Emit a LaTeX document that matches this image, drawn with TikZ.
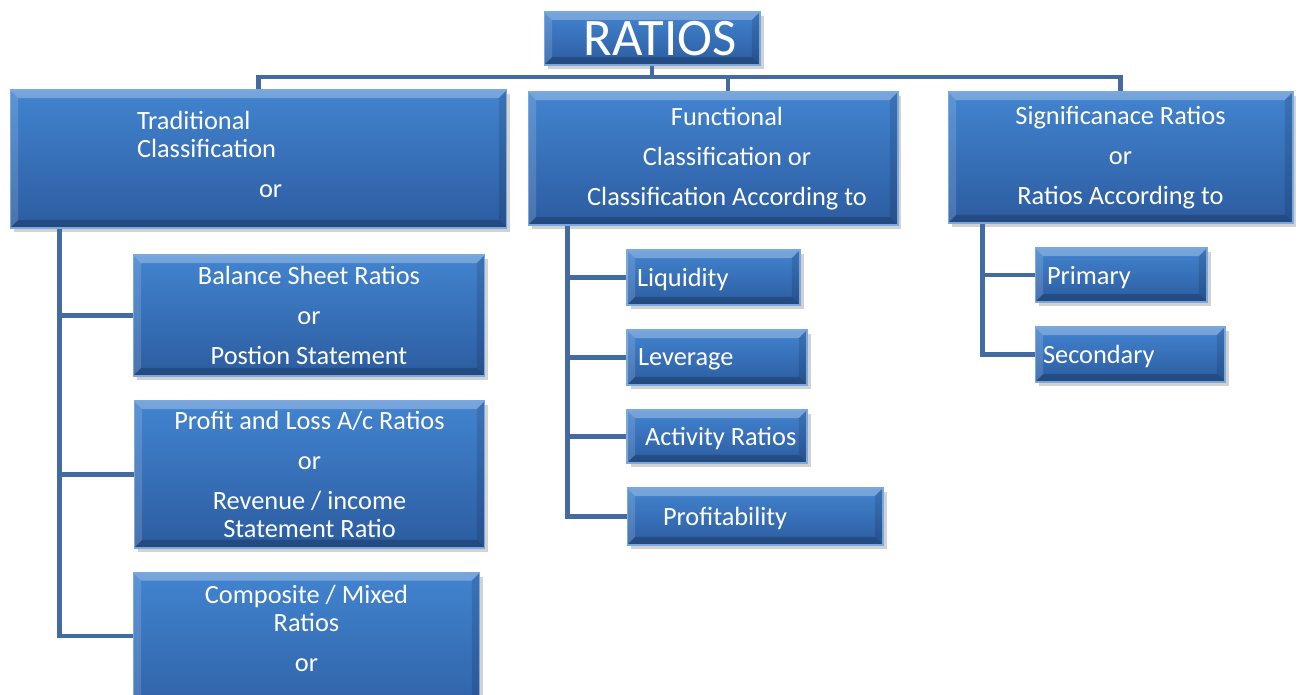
\documentclass[tikz,border=0pt]{standalone}
\usepackage{fontspec}
\setmainfont{Carlito}
\usetikzlibrary{shadows}
\definecolor{boxtop}{RGB}{66,132,208}
\definecolor{boxbot}{RGB}{44,92,160}
\definecolor{lineblue}{RGB}{68,106,162}
\tikzset{
  box/.style={shape=rectangle,top color=boxtop,bottom color=boxbot,draw=boxtop!70!white,line width=0.6pt,
    text=white,inner sep=0pt,font=\fontsize{15}{16}\selectfont,
    drop shadow={shadow xshift=2pt,shadow yshift=-2.5pt,opacity=0.35},
    path picture={
      \fill[white,opacity=.28] (path picture bounding box.north west) -- (path picture bounding box.north east)
        -- ([shift={(-0.16cm,-0.16cm)}]path picture bounding box.north east) -- ([shift={(0.16cm,-0.16cm)}]path picture bounding box.north west) -- cycle;
      \fill[white,opacity=.14] (path picture bounding box.north west) -- ([shift={(0.16cm,-0.16cm)}]path picture bounding box.north west)
        -- ([shift={(0.16cm,0.16cm)}]path picture bounding box.south west) -- (path picture bounding box.south west) -- cycle;
      \fill[black,opacity=.2] (path picture bounding box.south west) -- (path picture bounding box.south east)
        -- ([shift={(-0.16cm,0.16cm)}]path picture bounding box.south east) -- ([shift={(0.16cm,0.16cm)}]path picture bounding box.south west) -- cycle;
      \fill[black,opacity=.12] (path picture bounding box.north east) -- ([shift={(-0.16cm,-0.16cm)}]path picture bounding box.north east)
        -- ([shift={(-0.16cm,0.16cm)}]path picture bounding box.south east) -- (path picture bounding box.south east) -- cycle;
    }},
  head/.style={box,align=center},
  leaf/.style={box,align=flush left,inner xsep=0.05cm,text depth=0pt},
  conn/.style={draw=lineblue,line width=2.3pt}
}
\begin{document}
\begin{tikzpicture}[x=0.02cm,y=-0.02cm]
\useasboundingbox (0,0) rectangle (1298,695);
\clip (0,0) rectangle (1298,695);
\fill[white] (0,0) rectangle (1298,695);
% top level
\node[head,minimum width=4.32cm,minimum height=1.06cm,font=\fontsize{30}{32}\selectfont](ratios) at (652,38.5){\hspace*{0.32cm}RATIOS};
\coordinate (bus) at (653,77);
\draw[conn] (ratios.south) -- (ratios.south |- bus);
% classifications
\node[box,align=flush left,minimum height=2.76cm,text width=4.86cm,inner xsep=2.54cm](trad) at (258.5,159)
  {Traditional\\Classification\\[6.8pt]\hspace*{2.44cm}or\rule[-5pt]{0pt}{0pt}};
\node[head,minimum width=7.4cm,minimum height=2.66cm](func) at (713,158.5)
  {\hspace*{0.56cm}Functional\\[6.8pt]\hspace*{0.56cm}Classification or\\[6.8pt]\hspace*{0.56cm}Classification According to};
\node[head,minimum width=6.9cm,minimum height=2.62cm](sig) at (1120.5,157.5)
  {Significanace Ratios\\[6.8pt]or\\[6.8pt]Ratios According to};
\draw[conn] (trad.north) |- (bus) -| (sig.north);
\draw[conn] ([xshift=0.3cm]func.north) -- ([xshift=0.3cm]func.north |- bus);
% traditional branch
\node[head,minimum width=7.04cm,minimum height=2.42cm](bal) at (309,315.5)
  {Balance Sheet Ratios\\[6.8pt]or\\[6.8pt]Postion Statement};
\node[head,minimum width=7.02cm,minimum height=2.94cm](pl) at (309.5,474.5)
  {Profit and Loss A/c Ratios\\[6.8pt]or\\[6.8pt]Revenue / income\\Statement Ratio};
\node[head,anchor=north,minimum width=6.94cm,inner ysep=0.26cm](comp) at (306.5,572)
  {Composite / Mixed\\Ratios\\[6.8pt]or\rule[-1cm]{0pt}{0pt}};
\coordinate (tl) at ([xshift=1cm]trad.south west);
\draw[conn] (tl) |- (bal.west);
\draw[conn] (tl) |- (pl.west);
\draw[conn] (tl) |- ([yshift=-1.28cm]comp.north west);
% functional branch
\node[leaf,text width=3.36cm,minimum height=1.1cm](liq) at (713.5,277.5){\hspace*{0.15cm}Liquidity};
\node[leaf,text width=3.5cm,minimum height=1.1cm](lev) at (717,357.5){\hspace*{0.17cm}Leverage};
\node[leaf,text width=3.5cm,minimum height=1.06cm](act) at (717,436.5){\hspace*{0.31cm}Activity Ratios};
\node[leaf,text width=5.02cm,minimum height=1.14cm](prof) at (755,516.5){\hspace*{0.67cm}Profitability};
\coordinate (fl) at ([xshift=0.8cm]func.south west);
\draw[conn] (fl) |- (liq.west);
\draw[conn] (fl) |- (lev.west);
\draw[conn] (fl) |- (act.west);
\draw[conn] (fl) |- (prof.west);
% significance branch
\node[leaf,text width=3.34cm,minimum height=1.08cm](prim) at (1121,275){\hspace*{0.19cm}Primary};
\node[leaf,text width=3.7cm,minimum height=1.1cm](sec) at (1130,354.5){\hspace*{0.11cm}Secondary};
\coordinate (sl) at ([xshift=0.7cm]sig.south west);
\draw[conn] (sl) |- (prim.west);
\draw[conn] (sl) |- (sec.west);
\end{tikzpicture}
\end{document}
